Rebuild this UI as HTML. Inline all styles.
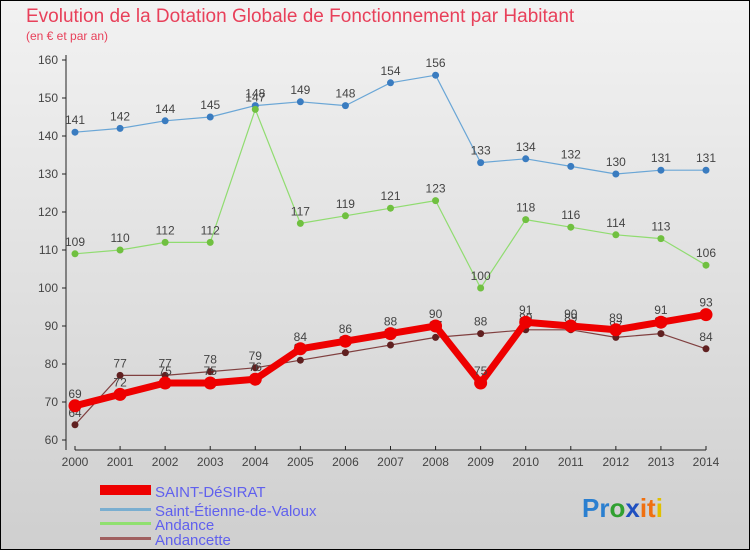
<!DOCTYPE html>
<html><head><meta charset="utf-8"><style>
body{margin:0}
#c{width:750px;height:550px;position:relative;overflow:hidden;font-family:"Liberation Sans",sans-serif}
</style></head><body>
<div id="c">
<svg id="s" width="750" height="550" xmlns="http://www.w3.org/2000/svg">
<defs><linearGradient id="bg" x1="0" y1="0" x2="0" y2="1"><stop offset="0" stop-color="#f2f2f2"/><stop offset="1" stop-color="#cfcfcf"/></linearGradient></defs>
<rect x="0.5" y="0.5" width="749" height="549" fill="url(#bg)" stroke="#000"/>
<text x="26" y="22" font-size="19" fill="#e8405a">Evolution de la Dotation Globale de Fonctionnement par Habitant</text>
<text x="26" y="40" font-size="12" fill="#e8405a">(en € et par an)</text>
<g id="axes"></g><g id="series"></g>
<g>
<rect x="100" y="485" width="51" height="10" fill="#ee0000"/>
<text x="155" y="497" font-size="15" fill="#6060ee">SAINT-DéSIRAT</text>
<rect x="100" y="508" width="51" height="3" fill="#7aaed0"/>
<text x="155" y="516" font-size="15" fill="#6060ee">Saint-Étienne-de-Valoux</text>
<rect x="100" y="522" width="51" height="3" fill="#90e070"/>
<text x="155" y="530" font-size="15" fill="#6060ee">Andance</text>
<rect x="100" y="537" width="51" height="3" fill="#a06060"/>
<text x="155" y="545" font-size="15" fill="#6060ee">Andancette</text>
</g>
<g font-size="26" font-weight="bold">
<text x="582" y="517"><tspan fill="#2a7fd0">Pr</tspan><tspan fill="#30a030">o</tspan><tspan fill="#2050c0">x</tspan><tspan fill="#f07010">it</tspan><tspan fill="#e0c000">i</tspan></text>
</g>
</svg>
</div>
<script>
const years=[2000,2001,2002,2003,2004,2005,2006,2007,2008,2009,2010,2011,2012,2013,2014];
const yTicks=[60,70,80,90,100,110,120,130,140,150,160];
const stEtienne=[141,142,144,145,148,149,148,154,156,133,134,132,130,131,131];
const andance=[109,110,112,112,147,117,119,121,123,100,118,116,114,113,106];
const andancette=[64,77,77,78,79,81,83,85,87,88,89,89,87,88,84];
const saintDesirat=[69,72,75,75,76,84,86,88,90,75,91,90,89,91,93];
const NS="http://www.w3.org/2000/svg";
const X=i=>75+i*(706-75)/(years.length-1);
const Y=v=>440-(v-60)*3.8;
function mk(tag,attrs,parent){const e=document.createElementNS(NS,tag);for(const k in attrs)e.setAttribute(k,attrs[k]);parent.appendChild(e);return e;}
const ax=document.getElementById('axes');
let l=mk('line',{x1:66,y1:55,x2:66,y2:450,stroke:'#222'},ax);


l=mk('line',{x1:75,y1:450,x2:706,y2:450,stroke:'#222'},ax);


yTicks.forEach(v=>{
 const t=mk('text',{x:58,y:Y(v)+4,'font-size':12,fill:'#444','text-anchor':'end'},ax);t.textContent=v;
 
 
 const tk=mk('line',{x1:62,y1:Y(v),x2:66,y2:Y(v),stroke:'#222'},ax);
 
 
});
years.forEach((y,i)=>{
 const t=mk('text',{x:X(i),y:466,'font-size':12,fill:'#444','text-anchor':'middle'},ax);t.textContent=y;
 
 
 const tk=mk('line',{x1:X(i),y1:446,x2:X(i),y2:450,stroke:'#222'},ax);
 
 
});
const sg=document.getElementById('series');
function series(vals,name,color,width,r,dot){
 const g=mk('g',{},sg);
 
 
 const p=mk('polyline',{points:vals.map((v,i)=>X(i)+','+Y(v)).join(' '),fill:'none',stroke:color,'stroke-width':width,'stroke-linejoin':'round'},g);
 
 
 vals.forEach((v,i)=>{
  const c=mk('circle',{cx:X(i),cy:Y(v),r:r,fill:dot},g);
  
  
  const t=mk('text',{x:X(i),y:Y(v)-8,'font-size':12,fill:'#444','text-anchor':'middle'},g);t.textContent=v;
  
  
 });
}
series(stEtienne,'saint-etienne','#6aa6d6',1.2,3.5,'#3a7cc0');
series(andance,'andance','#90dc70',1.2,3.5,'#70c040');
series(andancette,'andancette','#804040',1.2,3.5,'#602020');
series(saintDesirat,'saint-desirat','#ee0000',7,6.5,'#ee0000');
</script>
</body></html>
